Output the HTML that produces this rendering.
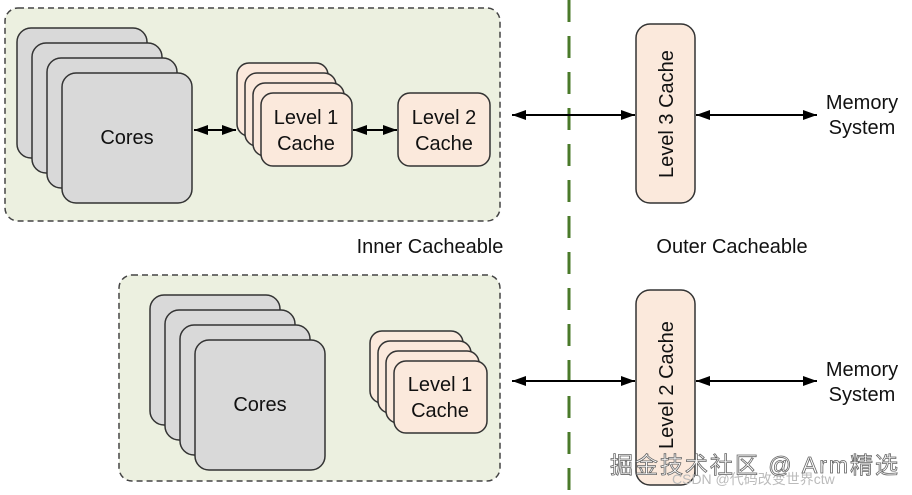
<!DOCTYPE html>
<html><head><meta charset="utf-8"><style>html,body{margin:0;padding:0;background:#fff}svg{display:block}</style></head><body>
<svg width="912" height="495" viewBox="0 0 912 495" xmlns="http://www.w3.org/2000/svg" font-family="Liberation Sans, sans-serif">
<defs>
<marker id="a" viewBox="0 0 14 10" refX="14" refY="5" markerWidth="7" markerHeight="5" orient="auto-start-reverse"><path d="M0,0L14,5L0,10z" fill="#000"/></marker>
</defs>
<line x1="569" y1="0" x2="569" y2="495" stroke="#4a7a2a" stroke-width="3" stroke-dasharray="22,14"/>
<rect x="5" y="8" width="495" height="213" rx="13" fill="#ecf0e0" stroke="#444" stroke-width="1.5" stroke-dasharray="6,4"/>
<g fill="#d9d9d9" stroke="#333" stroke-width="1.5">
<rect x="17" y="28" width="130" height="130" rx="14"/>
<rect x="32" y="43" width="130" height="130" rx="14"/>
<rect x="47" y="58" width="130" height="130" rx="14"/>
<rect x="62" y="73" width="130" height="130" rx="14"/>
</g>
<text x="127" y="144" font-size="20" text-anchor="middle" fill="#111">Cores</text>
<g fill="#fbe9dc" stroke="#333" stroke-width="1.5">
<rect x="237" y="63" width="91" height="73" rx="12"/>
<rect x="245" y="73" width="91" height="73" rx="12"/>
<rect x="253" y="83" width="91" height="73" rx="12"/>
<rect x="261" y="93" width="91" height="73" rx="12"/>
<rect x="398" y="93" width="92" height="73" rx="12"/>
</g>
<text x="306" y="124" font-size="20" text-anchor="middle" fill="#111">Level 1</text>
<text x="306" y="150" font-size="20" text-anchor="middle" fill="#111">Cache</text>
<text x="444" y="124" font-size="20" text-anchor="middle" fill="#111">Level 2</text>
<text x="444" y="150" font-size="20" text-anchor="middle" fill="#111">Cache</text>
<g stroke="#000" stroke-width="2" marker-start="url(#a)" marker-end="url(#a)">
<line x1="194" y1="130" x2="236" y2="130"/>
<line x1="353" y1="130" x2="397" y2="130"/>
<line x1="512" y1="115" x2="635" y2="115"/>
<line x1="696" y1="115" x2="817" y2="115"/>
<line x1="327" y1="398" x2="369" y2="398"/>
<line x1="512" y1="381" x2="635" y2="381"/>
<line x1="696" y1="381" x2="817" y2="381"/>
</g>
<rect x="636" y="24" width="59" height="179" rx="14" fill="#fbe9dc" stroke="#333" stroke-width="1.5"/>
<text transform="translate(673,114) rotate(-90)" font-size="20" text-anchor="middle" fill="#111">Level 3 Cache</text>
<text x="862" y="109" font-size="20" text-anchor="middle" fill="#111">Memory</text>
<text x="862" y="134" font-size="20" text-anchor="middle" fill="#111">System</text>
<text x="430" y="253" font-size="20" text-anchor="middle" fill="#111">Inner Cacheable</text>
<text x="732" y="253" font-size="20" text-anchor="middle" fill="#111">Outer Cacheable</text>
<rect x="119" y="275" width="381" height="206" rx="13" fill="#ecf0e0" stroke="#444" stroke-width="1.5" stroke-dasharray="6,4"/>
<g fill="#d9d9d9" stroke="#333" stroke-width="1.5">
<rect x="150" y="295" width="130" height="130" rx="14"/>
<rect x="165" y="310" width="130" height="130" rx="14"/>
<rect x="180" y="325" width="130" height="130" rx="14"/>
<rect x="195" y="340" width="130" height="130" rx="14"/>
</g>
<text x="260" y="411" font-size="20" text-anchor="middle" fill="#111">Cores</text>
<g fill="#fbe9dc" stroke="#333" stroke-width="1.5">
<rect x="370" y="331" width="93" height="72" rx="12"/>
<rect x="378" y="341" width="93" height="72" rx="12"/>
<rect x="386" y="351" width="93" height="72" rx="12"/>
<rect x="394" y="361" width="93" height="72" rx="12"/>
</g>
<text x="440" y="391" font-size="20" text-anchor="middle" fill="#111">Level 1</text>
<text x="440" y="417" font-size="20" text-anchor="middle" fill="#111">Cache</text>
<rect x="636" y="290" width="59" height="195" rx="14" fill="#fbe9dc" stroke="#333" stroke-width="1.5"/>
<text transform="translate(673,385) rotate(-90)" font-size="20" text-anchor="middle" fill="#111">Level 2 Cache</text>
<text x="862" y="376" font-size="20" text-anchor="middle" fill="#111">Memory</text>
<text x="862" y="401" font-size="20" text-anchor="middle" fill="#111">System</text>
<text x="672" y="484" font-size="14" fill="#bbb" font-family="Liberation Sans, Noto Sans CJK SC, sans-serif">CSDN @代码改变世界ctw</text>
<text x="610" y="473" font-size="23" textLength="288" fill="#fff" stroke="#666" stroke-width="0.8" font-family="Liberation Sans, Noto Sans CJK SC, sans-serif">掘金技术社区 @ Arm精选</text>
</svg>
</body></html>
